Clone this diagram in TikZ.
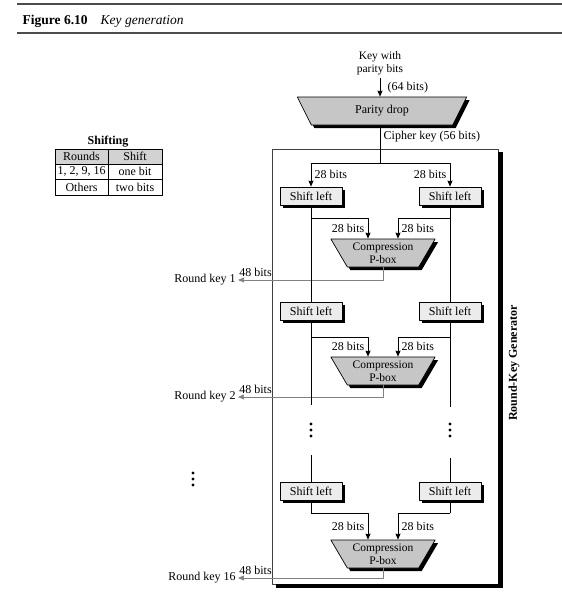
\documentclass[tikz,border=0pt]{standalone}
\usepackage{fontspec}
\setmainfont{Liberation Serif}
\usetikzlibrary{shapes.geometric,shadows,arrows.meta}
\tikzset{
	shiftbox/.style={draw,fill=gray!15,minimum width=62pt,minimum height=18pt,inner sep=1pt,drop shadow={shadow xshift=3pt,shadow yshift=-2.5pt,fill=black,opacity=1}},
	trap/.style={draw,fill=gray!45,shape=trapezium,shape border rotate=180,trapezium stretches=true,minimum height=28pt,inner sep=0pt,align=center,drop shadow={shadow xshift=3pt,shadow yshift=-3pt,fill=black,opacity=1}},
	pbox/.style={trap,trapezium left angle=56,trapezium right angle=56,minimum width=105pt,font=\fontsize{11.5}{13}\selectfont},
	keyline/.style={gray,->},
}
\begin{document}
\begin{tikzpicture}[x=1pt,y=-1pt,font=\fontsize{12}{13}\selectfont,line join=round,>={Stealth[length=6pt,width=5pt,inset=0.5pt]},line width=0.7pt]
	\useasboundingbox (0,0) rectangle (562,600);
	\draw[line width=1.6pt,gray!60!black] (17,4) -- (562,4);
	\draw[line width=1.6pt,gray!60!black] (17,33) -- (562,33);
	\node[anchor=base west,font=\fontsize{13.5}{15}\selectfont\bfseries] (fig) at (19,24) {Figure 6.10};
	\node[anchor=base west,font=\fontsize{13.5}{15}\selectfont\itshape] (cap) at (97,24) {Key generation};
	\node[font=\fontsize{12}{13}\selectfont\bfseries] (shtitle) at (108,142) {Shifting};
	\fill[gray!35] (55,149) rectangle (162,164);
	\draw (55,149) rectangle (162,195);
	\draw (55,164) -- (162,164);
	\draw (55,179) -- (162,179);
	\draw (108,149) -- (108,195);
	\node (hr) at (81.5,156.5) {Rounds};
	\node (hs) at (135,156.5) {Shift};
	\node (r1) at (81.5,171.5) {1, 2, 9, 16};
	\node (s1) at (135,171.5) {one bit};
	\node (r2) at (81.5,187) {Others};
	\node (s2) at (135,187) {two bits};
	\draw[black!75] (272,149) rectangle (498,584);
	\fill (498,152) rectangle (503,588);
	\fill (276,584) rectangle (503,588);
	\node[rotate=90,font=\fontsize{12}{13}\selectfont\bfseries] (gen) at (514,363) {Round-Key Generator};
	\node[align=center,font=\fontsize{11.5}{13}\selectfont] (kin) at (380,63) {Key with\\parity bits};
	\node[trap,trapezium left angle=64,trapezium right angle=64,minimum width=170pt] (pd) at (382,111) {Parity drop};
	\draw[->] (kin.south) -- (kin.south |- pd.north) node[midway,right,xshift=4pt]{(64 bits)};
	\coordinate (split) at (380,163);
	\draw (split |- pd.south) -- (split) node[pos=0.3,right]{Cipher key (56 bits)};
	\foreach \i/\ys/\yb/\yp/\yk/\k in {1/196/218/253/280/1,2/311/337/371/397/2,3/491/513/554/578/16}{
		\node[shiftbox] (sl\i) at (311,\ys) {Shift left};
		\node[shiftbox] (sr\i) at (450,\ys) {Shift left};
		\node[pbox] (pb\i) at (383,\yp) {Compression\\P-box};
		\coordinate (bl\i) at (311,\yb);
		\coordinate (br\i) at (450,\yb);
		\draw (sl\i.south) -- (bl\i);
		\draw (sr\i.south) -- (br\i);
		\draw[->] (bl\i) -| ([xshift=-15pt]pb\i.north) node[pos=0.75,left]{28 bits};
		\draw[->] (br\i) -| ([xshift=15pt]pb\i.north) node[pos=0.75,right]{28 bits};
		\node[anchor=east,inner sep=2pt] (rk\i) at (238,\yk) {Round key \k};
		\draw[keyline] (pb\i.south) |- (rk\i.east) node[pos=1,above right,inner sep=1pt,yshift=2pt,black]{48 bits};
	}
	\draw[->] (split) -| (sl1.north) node[pos=0.75,right]{28 bits};
	\draw[->] (split) -| (sr1.north) node[pos=0.75,left]{28 bits};
	\coordinate (gl1) at (311,405);
	\coordinate (gl2) at (311,455);
	\coordinate (gr1) at (450,407);
	\coordinate (gr2) at (450,458);
	\draw (sl1.south) -- (sl2.north);
	\draw (sr1.south) -- (sr2.north);
	\draw (sl2.south) -- (gl1);
	\draw (gl2) -- (sl3.north);
	\draw (sr2.south) -- (gr1);
	\draw (gr2) -- (sr3.north);
	\foreach \y in {424,430,436}{
		\fill (311,\y) circle (1.6pt);
		\fill (450,\y) circle (1.6pt);
		\fill (193,\y+49) circle (1.6pt);
	}
\end{tikzpicture}
\end{document}
